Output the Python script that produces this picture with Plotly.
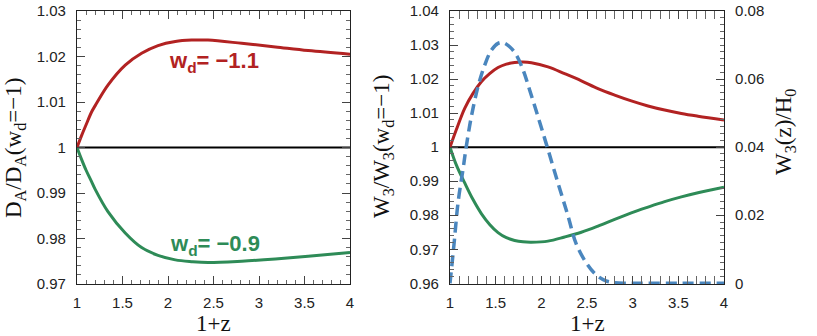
import plotly.graph_objects as go

# left panel: D_A ratio
x_da = [1.0, 1.05, 1.1, 1.16, 1.2, 1.34, 1.53, 1.71, 1.89, 2.08, 2.26, 2.44, 2.81, 3.18, 3.54, 4.0]
da_red = [1.0, 1.0026, 1.0050, 1.0078, 1.0092, 1.0137, 1.0181, 1.0207, 1.0224, 1.0233, 1.0236,
          1.0236, 1.0229, 1.0221, 1.0213, 1.0205]
da_green = [1.0, 0.9974, 0.9950, 0.9925, 0.9908, 0.9859, 0.9812, 0.9780, 0.9763, 0.9753, 0.9749,
            0.9747, 0.9750, 0.9755, 0.9761, 0.9769]

# right panel: W3 ratio
x_w = [1.0, 1.069, 1.161, 1.252, 1.343, 1.434, 1.526, 1.617, 1.708, 1.799, 1.891, 2.073, 2.255,
       2.438, 2.62, 2.803, 2.985, 3.168, 3.35, 3.533, 3.715, 4.0]
w_red = [1.0, 1.0051, 1.0114, 1.0158, 1.0192, 1.0216, 1.0234, 1.0244, 1.0249, 1.0250, 1.0248,
         1.0236, 1.0216, 1.0195, 1.0172, 1.0153, 1.0136, 1.0121, 1.0109, 1.0099, 1.0091, 1.0080]
w_green = [1.0, 0.9948, 0.9895, 0.9846, 0.9805, 0.9773, 0.9749, 0.9734, 0.9726, 0.9722, 0.9721,
           0.9724, 0.9736, 0.9750, 0.9768, 0.9788, 0.9807, 0.9824, 0.9840, 0.9854, 0.9866, 0.9882]

# W3(z)/H0 kernel
x_k = [1.0, 1.044, 1.088, 1.142, 1.179, 1.234, 1.307, 1.38, 1.453, 1.526, 1.58, 1.653, 1.726,
       1.80, 1.872, 1.963, 2.073, 2.182, 2.292, 2.383, 2.5, 2.6, 2.7, 2.8, 2.9, 3.0, 3.5, 4.0]
w3_kernel = [0.0, 0.0115, 0.0237, 0.0334, 0.0403, 0.0490, 0.0578, 0.0641, 0.0685, 0.0705, 0.0707,
             0.0695, 0.0671, 0.0627, 0.0568, 0.0490, 0.0393, 0.0295, 0.0198, 0.0115, 0.0057,
             0.0025, 0.0008, 0.0002, 0.0, 0.0, 0.0, 0.0]

RED = "#b22222"
GREEN = "#2e8b57"
BLUE = "#4a86be"
SERIF = "Liberation Serif, Times New Roman, serif"
SANS = "Liberation Sans, Arial, sans-serif"

W, H = 817, 336
ML, MR, MT, MB = 77, W - 724, 11, H - 284
PW, PH = W - ML - MR, H - MT - MB

def px(x):
    return (x - ML) / PW

def py(y):
    return (H - MB - y) / PH

fig = go.Figure()
fig.add_trace(go.Scatter(x=[1, 4], y=[1, 1], mode="lines", line=dict(color="black", width=2),
                         xaxis="x", yaxis="y", showlegend=False))
fig.add_trace(go.Scatter(x=x_da, y=da_red, mode="lines", line=dict(color=RED, width=3, shape="spline"),
                         xaxis="x", yaxis="y", showlegend=False))
fig.add_trace(go.Scatter(x=x_da, y=da_green, mode="lines", line=dict(color=GREEN, width=3, shape="spline"),
                         xaxis="x", yaxis="y", showlegend=False))

fig.add_trace(go.Scatter(x=[1, 4], y=[1, 1], mode="lines", line=dict(color="black", width=2),
                         xaxis="x2", yaxis="y2", showlegend=False))
fig.add_trace(go.Scatter(x=x_w, y=w_red, mode="lines", line=dict(color=RED, width=3, shape="spline"),
                         xaxis="x2", yaxis="y2", showlegend=False))
fig.add_trace(go.Scatter(x=x_w, y=w_green, mode="lines", line=dict(color=GREEN, width=3, shape="spline"),
                         xaxis="x2", yaxis="y2", showlegend=False))
fig.add_trace(go.Scatter(x=x_k, y=w3_kernel, mode="lines",
                         line=dict(color=BLUE, width=3.5, dash="11px,6px", shape="spline"),
                         xaxis="x2", yaxis="y3", showlegend=False))

tickfont = dict(family=SANS, size=15, color="#222")
common_x = dict(range=[1, 4], dtick=0.5, tick0=1, ticks="inside", ticklen=8, tickcolor="#444",
                showline=True, linecolor="#222", linewidth=1.2, mirror="allticks",
                showgrid=False, zeroline=False, tickfont=tickfont, ticklabelstandoff=5,
                automargin=False,
                minor=dict(ticks="inside", dtick=0.1, ticklen=4, tickcolor="#666", showgrid=False))

fig.update_layout(
    width=W, height=H,
    margin=dict(l=ML, r=MR, t=MT, b=MB, autoexpand=False),
    paper_bgcolor="white", plot_bgcolor="white",
    xaxis=dict(domain=[0, px(350)], anchor="y", **common_x),
    yaxis=dict(domain=[0, 1], anchor="x", range=[0.97, 1.03], automargin=False,
               ticks="inside", ticklen=8, tickcolor="#444",
               showline=True, linecolor="#222", linewidth=1.2, mirror="allticks",
               showgrid=False, zeroline=False, tickfont=tickfont, ticklabelstandoff=7,
               tickvals=[0.97, 0.98, 0.99, 1.0, 1.01, 1.02, 1.03],
               ticktext=["0.97", "0.98", "0.99", "1", "1.01", "1.02", "1.03"],
               minor=dict(ticks="inside", dtick=0.002, tick0=0.97, ticklen=4, tickcolor="#666",
                          showgrid=False)),
    xaxis2=dict(domain=[px(450), 1], anchor="y2", **common_x),
    yaxis2=dict(domain=[0, 1], anchor="x2", range=[0.9598, 1.04], automargin=False,
                ticks="inside", ticklen=8, tickcolor="#444",
                showline=True, linecolor="#222", linewidth=1.2, mirror=False,
                showgrid=False, zeroline=False, tickfont=tickfont, ticklabelstandoff=7,
                tickvals=[0.96, 0.97, 0.98, 0.99, 1.0, 1.01, 1.02, 1.03, 1.04],
                ticktext=["0.96", "0.97", "0.98", "0.99", "1", "1.01", "1.02", "1.03", "1.04"],
                minor=dict(ticks="inside", dtick=0.002, tick0=0.96, ticklen=4, tickcolor="#666",
                           showgrid=False)),
    yaxis3=dict(overlaying="y2", side="right", anchor="x2", range=[-0.0002, 0.08], automargin=False,
                ticks="inside", ticklen=8, tickcolor="#444",
                showline=True, linecolor="#222", linewidth=1.2,
                showgrid=False, zeroline=False, tickfont=tickfont, ticklabelstandoff=7,
                tickvals=[0, 0.02, 0.04, 0.06, 0.08],
                ticktext=["0", "0.02", "0.04", "0.06", "0.08"],
                minor=dict(ticks="inside", dtick=0.002, tick0=0, ticklen=4, tickcolor="#666",
                           showgrid=False)),
)

title_font = dict(family=SERIF, size=23, color="#111")
annos = [
    dict(x=15, y=148, text="D<sub>A</sub>/D<sub>A</sub>(w<sub>d</sub>=−1)", textangle=-90),
    dict(x=383, y=147, text="W<sub>3</sub>/W<sub>3</sub>(w<sub>d</sub>=−1)", textangle=-90),
    dict(x=785, y=132, text="W<sub>3</sub>(z)/H<sub>0</sub>", textangle=-90),
    dict(x=213, y=323, text="1+z"),
    dict(x=587, y=323, text="1+z"),
]
for a in annos:
    fig.add_annotation(xref="paper", yref="paper", x=px(a["x"]), y=py(a["y"]),
                       text=a["text"], textangle=a.get("textangle", 0),
                       xanchor="center", yanchor="middle", showarrow=False, font=title_font)

labels = [(214, 62, "<b>w<sub>d</sub>= −1.1</b>", RED), (215, 245, "<b>w<sub>d</sub>= −0.9</b>", GREEN)]
for lx, ly, txt, col in labels:
    fig.add_annotation(xref="paper", yref="paper", x=px(lx), y=py(ly),
                       text=txt, showarrow=False, font=dict(family=SANS, size=22, color=col),
                       xanchor="center", yanchor="middle")

# drop the browser's default 8px body margin so the figure sits in the corner
fig.write_html("out.html", config={"displayModeBar": False},
               post_script="document.body.style.margin='0';")
